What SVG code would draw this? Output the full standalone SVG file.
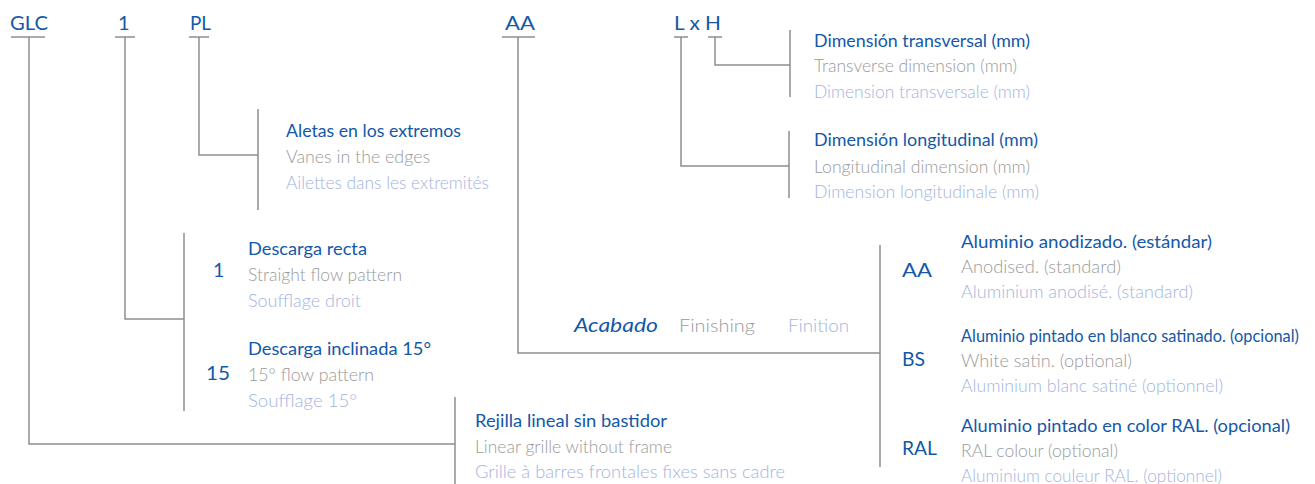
<svg xmlns="http://www.w3.org/2000/svg" width="1315" height="484" viewBox="0 0 1315 484">
<style>
text{font-family:Lato,"Liberation Sans",sans-serif}
.h{fill:#1458a8;font-size:20px}
.c{fill:#1458a8;font-size:19.5px}
.b{fill:#1458a8;font-size:17.5px}
.g{fill:#9a9a9a;font-size:17.5px;font-weight:300}
.l{fill:#a3b4e0;font-size:17.5px;font-weight:300}
.ln{fill:none;stroke:#8e8e8e;stroke-width:1.5}
</style>
<rect width="1315" height="484" fill="#fff"/>
<g id="connectors" class="ln">
<path d="M11 37H45M29 37V444H455"/>
<path d="M455 397V484"/>
<path d="M115 37H135M125 37V319H184"/>
<path d="M184 233V411"/>
<path d="M189 37H209M199 37V155H258"/>
<path d="M258 109V210"/>
<path d="M502 37H535M518 37V353H880"/>
<path d="M880 245V467"/>
<path d="M674 37H688M681 37V166H789"/>
<path d="M789 131V198"/>
<path d="M708 37H722M715 37V65H790"/>
<path d="M790 30V97"/>
</g>
<g id="header">
<text class="h" x="10" y="29.5" textLength="38" lengthAdjust="spacingAndGlyphs">GLC</text>
<text class="h" x="118" y="29.5">1</text>
<text class="h" x="190" y="29.5" textLength="21" lengthAdjust="spacingAndGlyphs">PL</text>
<text class="h" x="505" y="29.5" textLength="30" lengthAdjust="spacingAndGlyphs">AA</text>
<text class="h" x="674" y="29.5" textLength="47" lengthAdjust="spacingAndGlyphs">L x H</text>
</g>
<g id="node-pl">
<text class="b" x="286" y="137" textLength="175" lengthAdjust="spacingAndGlyphs">Aletas en los extremos</text>
<text class="g" x="286" y="163" textLength="144" lengthAdjust="spacingAndGlyphs">Vanes in the edges</text>
<text class="l" x="286" y="189" textLength="203" lengthAdjust="spacingAndGlyphs">Ailettes dans les extremités</text>
</g>
<g id="node-1">
<text class="c" x="213" y="277">1</text>
<text class="b" x="248" y="255" textLength="119" lengthAdjust="spacingAndGlyphs">Descarga recta</text>
<text class="g" x="248" y="281" textLength="154" lengthAdjust="spacingAndGlyphs">Straight flow pattern</text>
<text class="l" x="248" y="307" textLength="113" lengthAdjust="spacingAndGlyphs">Soufflage droit</text>
</g>
<g id="node-15">
<text class="c" x="206" y="380" textLength="24" lengthAdjust="spacingAndGlyphs">15</text>
<text class="b" x="248" y="355" textLength="183" lengthAdjust="spacingAndGlyphs">Descarga inclinada 15°</text>
<text class="g" x="248" y="381" textLength="126" lengthAdjust="spacingAndGlyphs">15° flow pattern</text>
<text class="l" x="248" y="407" textLength="109" lengthAdjust="spacingAndGlyphs">Soufflage 15°</text>
</g>
<g id="node-glc">
<text class="b" x="475" y="427" textLength="192" lengthAdjust="spacingAndGlyphs">Rejilla lineal sin bastidor</text>
<text class="g" x="475" y="453" textLength="197" lengthAdjust="spacingAndGlyphs">Linear grille without frame</text>
<text class="l" x="475" y="478" textLength="310" lengthAdjust="spacingAndGlyphs">Grille à barres frontales fixes sans cadre</text>
</g>
<g id="node-h">
<text class="b" x="814" y="47" textLength="216" lengthAdjust="spacingAndGlyphs">Dimensión transversal (mm)</text>
<text class="g" x="814" y="72" textLength="203" lengthAdjust="spacingAndGlyphs">Transverse dimension (mm)</text>
<text class="l" x="814" y="98" textLength="216" lengthAdjust="spacingAndGlyphs">Dimension transversale (mm)</text>
</g>
<g id="node-l">
<text class="b" x="814" y="146" textLength="224" lengthAdjust="spacingAndGlyphs">Dimensión longitudinal (mm)</text>
<text class="g" x="814" y="173" textLength="216" lengthAdjust="spacingAndGlyphs">Longitudinal dimension (mm)</text>
<text class="l" x="814" y="198" textLength="225" lengthAdjust="spacingAndGlyphs">Dimension longitudinale (mm)</text>
</g>
<g id="node-acabado">
<text class="c" x="574" y="332" font-style="italic" textLength="84" lengthAdjust="spacingAndGlyphs">Acabado</text>
<text class="g" x="679" y="332" font-size="19" textLength="76" lengthAdjust="spacingAndGlyphs">Finishing</text>
<text class="l" x="788" y="332" font-size="19" textLength="61" lengthAdjust="spacingAndGlyphs">Finition</text>
</g>
<g id="node-aa">
<text class="c" x="902" y="277" textLength="30" lengthAdjust="spacingAndGlyphs">AA</text>
<text class="b" x="961" y="248" textLength="251" lengthAdjust="spacingAndGlyphs">Aluminio anodizado. (estándar)</text>
<text class="g" x="961" y="273" textLength="160" lengthAdjust="spacingAndGlyphs">Anodised. (standard)</text>
<text class="l" x="961" y="298" textLength="232" lengthAdjust="spacingAndGlyphs">Aluminium anodisé. (standard)</text>
</g>
<g id="node-bs">
<text class="c" x="902" y="366" textLength="23" lengthAdjust="spacingAndGlyphs">BS</text>
<text class="b" x="961" y="342" textLength="338" lengthAdjust="spacingAndGlyphs">Aluminio pintado en blanco satinado. (opcional)</text>
<text class="g" x="961" y="367" textLength="171" lengthAdjust="spacingAndGlyphs">White satin. (optional)</text>
<text class="l" x="961" y="392" textLength="262" lengthAdjust="spacingAndGlyphs">Aluminium blanc satiné (optionnel)</text>
</g>
<g id="node-ral">
<text class="c" x="902" y="455" textLength="35" lengthAdjust="spacingAndGlyphs">RAL</text>
<text class="b" x="961" y="432" textLength="329" lengthAdjust="spacingAndGlyphs">Aluminio pintado en color RAL. (opcional)</text>
<text class="g" x="961" y="457" textLength="157" lengthAdjust="spacingAndGlyphs">RAL colour (optional)</text>
<text class="l" x="961" y="482" textLength="261" lengthAdjust="spacingAndGlyphs">Aluminium couleur RAL. (optionnel)</text>
</g>
</svg>
